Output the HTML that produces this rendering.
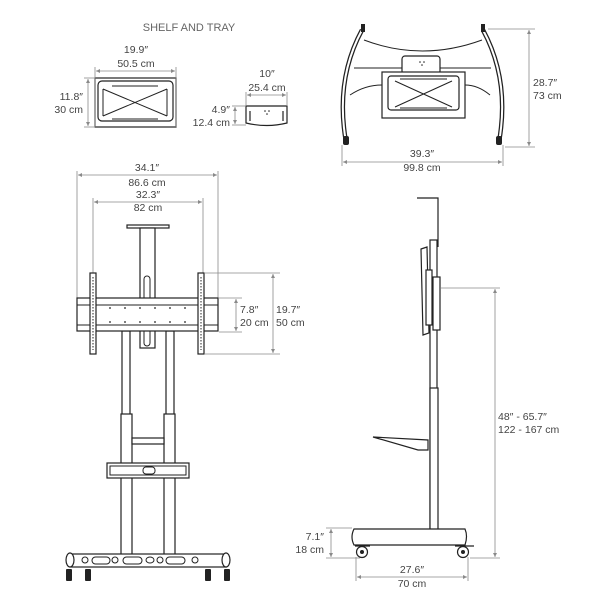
<!DOCTYPE html>
<html><head><meta charset="utf-8"><style>
html,body{margin:0;padding:0;background:#fff;}
svg{display:block;}
text{font-family:"Liberation Sans",sans-serif;font-size:10.5px;fill:#444;}
.d{stroke:#8a8a8a;stroke-width:0.8;fill:none;}
.k{stroke:#222;fill:none;}
.kf{stroke:#222;fill:#fff;}
</style></head><body>
<svg width="600" height="600" viewBox="0 0 600 600" xmlns="http://www.w3.org/2000/svg" stroke-width="1.2">
<defs>
<marker id="a" viewBox="0 0 6 6" refX="6" refY="3" markerWidth="5" markerHeight="5" orient="auto-start-reverse"><path d="M0,0L6,3L0,6z" fill="#8a8a8a" stroke="none"/></marker>
</defs>
<!-- SHELF AND TRAY -->
<text x="189" y="31" text-anchor="middle" style="font-size:11px;fill:#666">SHELF AND TRAY</text>
<rect x="95" y="78" width="81" height="49" class="k"/>
<rect x="98" y="81" width="75" height="40" rx="4" class="k"/>
<path d="M103,89 L167,116 M167,89 L103,116 M103,89 L103,116 M167,89 L167,116 M112,86 L158,86 M112,119 L158,119" class="k" stroke-width="1"/>
<line x1="95" y1="67" x2="95" y2="127" class="d"/><line x1="176" y1="67" x2="176" y2="127" class="d"/>
<line x1="96" y1="71" x2="175" y2="71" class="d" marker-start="url(#a)" marker-end="url(#a)"/>
<text x="136" y="53" text-anchor="middle">19.9″</text><text x="136" y="67" text-anchor="middle">50.5 cm</text>
<line x1="84" y1="78" x2="95" y2="78" class="d"/><line x1="84" y1="127" x2="95" y2="127" class="d"/>
<line x1="88" y1="79" x2="88" y2="126" class="d" marker-start="url(#a)" marker-end="url(#a)"/>
<text x="83" y="100" text-anchor="end">11.8″</text><text x="83" y="113" text-anchor="end">30 cm</text>
<!-- tray -->
<path d="M246,106 L287,106 L287,123 Q267,128 246,123 Z" class="k"/>
<path d="M250,111 L250,121 M283,111 L283,121" class="k"/>
<circle cx="265" cy="111" r="0.8" fill="#222"/><circle cx="269" cy="111" r="0.8" fill="#222"/><circle cx="267" cy="114" r="0.8" fill="#222"/>
<line x1="246" y1="92" x2="246" y2="106" class="d"/><line x1="287" y1="92" x2="287" y2="106" class="d"/>
<line x1="247" y1="95" x2="286" y2="95" class="d" marker-start="url(#a)" marker-end="url(#a)"/>
<text x="267" y="77" text-anchor="middle">10″</text><text x="267" y="91" text-anchor="middle">25.4 cm</text>
<line x1="232" y1="106" x2="246" y2="106" class="d"/><line x1="232" y1="125" x2="246" y2="125" class="d"/>
<line x1="235" y1="107" x2="235" y2="124" class="d" marker-start="url(#a)" marker-end="url(#a)"/>
<text x="230" y="113" text-anchor="end">4.9″</text><text x="230" y="126" text-anchor="end">12.4 cm</text>
<!-- top view -->
<path d="M364,40 Q422,62 482,40" class="k" stroke-width="1"/>
<path d="M354,68 L491,68" class="k" stroke-width="1"/>
<path d="M350,95 Q365,85 382,85 M490,95 Q478,85 465,85" class="k" stroke-width="1"/>
<path d="M362,30 Q335,80 346,142" class="k" stroke-width="4.5"/><path d="M362,30 Q335,80 346,142" stroke="#fff" stroke-width="2" fill="none"/>
<path d="M483,30 Q510,80 499,142" class="k" stroke-width="4.5"/><path d="M483,30 Q510,80 499,142" stroke="#fff" stroke-width="2" fill="none"/>
<rect x="343" y="136" width="6" height="9" rx="2" fill="#222"/><rect x="496" y="136" width="6" height="9" rx="2" fill="#222"/>
<rect x="361" y="24" width="4" height="8" fill="#222"/><rect x="481" y="24" width="4" height="8" fill="#222"/>
<rect x="402" y="56" width="38" height="18" rx="3" class="kf"/>
<circle cx="420" cy="62" r="0.8" fill="#222"/><circle cx="424" cy="62" r="0.8" fill="#222"/><circle cx="422" cy="65" r="0.8" fill="#222"/>
<rect x="382" y="72" width="83" height="46" class="kf"/>
<rect x="388" y="76" width="71" height="34" rx="3" class="k"/>
<path d="M395,81 L452,107 M452,81 L395,107 M400,79 L447,79 M400,108 L447,108" class="k" stroke-width="1"/>
<line x1="488" y1="29" x2="535" y2="29" class="d"/><line x1="505" y1="147" x2="535" y2="147" class="d"/>
<line x1="529" y1="30" x2="529" y2="146" class="d" marker-start="url(#a)" marker-end="url(#a)"/>
<text x="533" y="86">28.7″</text><text x="533" y="99">73 cm</text>
<line x1="342" y1="145" x2="342" y2="166" class="d"/><line x1="503" y1="145" x2="503" y2="166" class="d"/>
<line x1="343" y1="162" x2="502" y2="162" class="d" marker-start="url(#a)" marker-end="url(#a)"/>
<text x="422" y="157" text-anchor="middle">39.3″</text><text x="422" y="171" text-anchor="middle">99.8 cm</text>
<!-- front view dims -->
<line x1="77" y1="171" x2="77" y2="298" class="d"/><line x1="218" y1="171" x2="218" y2="298" class="d"/>
<line x1="78" y1="175" x2="217" y2="175" class="d" marker-start="url(#a)" marker-end="url(#a)"/>
<text x="147" y="171" text-anchor="middle">34.1″</text><text x="147" y="186" text-anchor="middle">86.6 cm</text>
<line x1="93" y1="198" x2="93" y2="273" class="d"/><line x1="203" y1="198" x2="203" y2="273" class="d"/>
<line x1="94" y1="202" x2="202" y2="202" class="d" marker-start="url(#a)" marker-end="url(#a)"/>
<text x="148" y="198" text-anchor="middle">32.3″</text><text x="148" y="211" text-anchor="middle">82 cm</text>
<!-- front view -->
<rect x="127" y="225" width="42" height="3" class="k"/>
<rect x="140" y="228" width="15" height="120" class="kf"/>
<rect x="144" y="276" width="6" height="70" rx="3" class="k" stroke-width="1"/>
<rect x="122" y="331" width="8" height="226" class="kf"/><rect x="166" y="331" width="8" height="226" class="kf"/>
<rect x="121" y="414" width="11" height="143" class="kf"/><rect x="164" y="414" width="11" height="143" class="kf"/>
<rect x="132" y="438" width="32" height="6" class="kf"/>
<rect x="77" y="298" width="141" height="33" class="kf"/>
<rect x="77" y="305" width="141" height="20" class="k" stroke-width="1"/>
<g fill="#222"><circle cx="110" cy="308" r="0.9"/><circle cx="125" cy="308" r="0.9"/><circle cx="140" cy="308" r="0.9"/><circle cx="155" cy="308" r="0.9"/><circle cx="170" cy="308" r="0.9"/><circle cx="185" cy="308" r="0.9"/>
<circle cx="110" cy="322" r="0.9"/><circle cx="125" cy="322" r="0.9"/><circle cx="140" cy="322" r="0.9"/><circle cx="155" cy="322" r="0.9"/><circle cx="170" cy="322" r="0.9"/><circle cx="185" cy="322" r="0.9"/></g>
<rect x="90" y="273" width="6" height="81" class="kf"/><rect x="198" y="273" width="6" height="81" class="kf"/>
<line x1="93" y1="277" x2="93" y2="350" stroke="#222" stroke-width="1" stroke-dasharray="1.5,1.5"/>
<line x1="201" y1="277" x2="201" y2="350" stroke="#222" stroke-width="1" stroke-dasharray="1.5,1.5"/>
<rect x="107" y="463" width="82" height="15" class="kf"/>
<rect x="110" y="466" width="76" height="9" class="k" stroke-width="1"/>
<rect x="143" y="467" width="12" height="7" rx="3" class="k" stroke-width="1"/>
<rect x="71" y="554" width="155" height="13" class="kf"/>
<ellipse cx="70" cy="560" rx="4" ry="7" class="kf"/><ellipse cx="226" cy="560" rx="4" ry="7" class="kf"/>
<g class="k" stroke-width="1"><rect x="92" y="557" width="18" height="7" rx="3.5"/><rect x="123" y="557" width="19" height="7" rx="3.5"/><rect x="166" y="557" width="19" height="7" rx="3.5"/><ellipse cx="115" cy="560" rx="3" ry="3"/><ellipse cx="150" cy="560" rx="4" ry="3"/><ellipse cx="160" cy="560" rx="3" ry="3"/><ellipse cx="195" cy="560" rx="3" ry="3"/><ellipse cx="85" cy="560" rx="3" ry="3"/></g>
<g fill="#222"><rect x="66" y="569" width="6" height="12" rx="1"/><rect x="85" y="569" width="6" height="12" rx="1"/><rect x="205" y="569" width="6" height="12" rx="1"/><rect x="224" y="569" width="6" height="12" rx="1"/></g>
<!-- front right dims -->
<line x1="219" y1="298" x2="242" y2="298" class="d"/><line x1="219" y1="332" x2="242" y2="332" class="d"/>
<line x1="236" y1="299" x2="236" y2="331" class="d" marker-start="url(#a)" marker-end="url(#a)"/>
<text x="240" y="313">7.8″</text><text x="240" y="326">20 cm</text>
<line x1="205" y1="273" x2="280" y2="273" class="d"/><line x1="205" y1="354" x2="280" y2="354" class="d"/>
<line x1="273" y1="274" x2="273" y2="353" class="d" marker-start="url(#a)" marker-end="url(#a)"/>
<text x="276" y="313">19.7″</text><text x="276" y="326">50 cm</text>
<!-- side view -->
<path d="M417,198 L438,198 L438,247" class="k"/>
<rect x="430" y="240" width="7" height="290" class="kf"/>
<rect x="430" y="388" width="8" height="142" class="kf"/>
<path d="M421,249 L427,247 L429,333 L423,335 Z" class="kf"/>
<rect x="426" y="270" width="6" height="55" class="kf"/>
<rect x="433" y="277" width="7" height="53" class="kf"/>
<path d="M373,437 L428,440 L428,450 L418,450 Z" class="kf"/>
<path d="M354,529 L465,529 Q468,536 465,545 L354,545 Q350,537 354,529 Z" class="kf"/>
<path d="M355,546 L370,546 M455,546 L474,546" class="k"/>
<circle cx="362" cy="552" r="5.5" class="kf"/><circle cx="362" cy="552" r="2" fill="#222"/>
<circle cx="463" cy="552" r="5.5" class="kf"/><circle cx="463" cy="552" r="2" fill="#222"/>
<!-- side dims -->
<line x1="441" y1="288" x2="500" y2="288" class="d"/><line x1="470" y1="558" x2="500" y2="558" class="d"/>
<line x1="495" y1="289" x2="495" y2="557" class="d" marker-start="url(#a)" marker-end="url(#a)"/>
<text x="498" y="420">48″ - 65.7″</text><text x="498" y="433">122 - 167 cm</text>
<line x1="326" y1="528" x2="352" y2="528" class="d"/><line x1="326" y1="558" x2="360" y2="558" class="d"/>
<line x1="331" y1="529" x2="331" y2="557" class="d" marker-start="url(#a)" marker-end="url(#a)"/>
<text x="324" y="540" text-anchor="end">7.1″</text><text x="324" y="553" text-anchor="end">18 cm</text>
<line x1="356" y1="557" x2="356" y2="581" class="d"/><line x1="468" y1="557" x2="468" y2="581" class="d"/>
<line x1="357" y1="577" x2="467" y2="577" class="d" marker-start="url(#a)" marker-end="url(#a)"/>
<text x="412" y="573" text-anchor="middle">27.6″</text><text x="412" y="587" text-anchor="middle">70 cm</text>
</svg>
</body></html>
